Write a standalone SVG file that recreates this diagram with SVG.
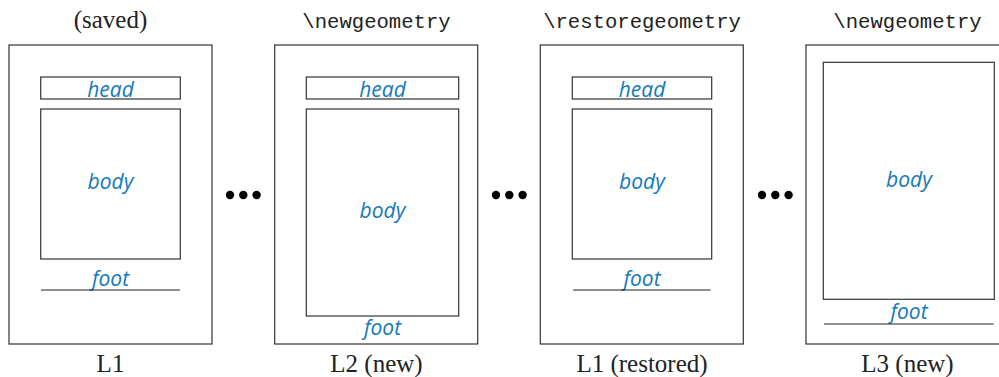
<svg xmlns="http://www.w3.org/2000/svg" width="999" height="377" viewBox="0 0 999 377">
<style>
.page{fill:#fff;stroke:#333;stroke-width:1.2}
.box{fill:none;stroke:#333;stroke-width:1.2}
.ln{stroke:#222;stroke-width:1.2}
.lbl{font-family:"Open Sans","DejaVu Sans",sans-serif;font-style:italic;font-size:21px;fill:#1479bd;text-anchor:middle}
.ser{font-family:"Liberation Serif","DejaVu Serif",serif;font-size:25px;fill:#222;text-anchor:middle}
.mono{font-family:"Liberation Mono","DejaVu Sans Mono",monospace;font-size:20.6px;fill:#222;text-anchor:middle}
.dot{fill:#000}
</style>
<rect width="999" height="377" fill="#fff"/>
<g id="page1">
<text class="ser" x="110.5" y="28">(saved)</text>
<rect class="page" x="9" y="45" width="203" height="299"/>
<rect class="box" x="40.7" y="77" width="139.6" height="22"/>
<text class="lbl" x="110.5" y="97">head</text>
<rect class="box" x="40.7" y="109" width="139.6" height="150"/>
<text class="lbl" x="110.5" y="189">body</text>
<text class="lbl" x="110.5" y="286">foot</text>
<line class="ln" x1="41" y1="290" x2="180" y2="290"/>
<text class="ser" x="110.5" y="372">L1</text>
</g>
<g id="page2">
<text class="mono" x="376.5" y="28">\newgeometry</text>
<rect class="page" x="274.7" y="45" width="203" height="299"/>
<rect class="box" x="306.3" y="77" width="152.4" height="22"/>
<text class="lbl" x="382.5" y="97">head</text>
<rect class="box" x="306.3" y="109" width="152.4" height="207"/>
<text class="lbl" x="382.5" y="218">body</text>
<text class="lbl" x="382.5" y="335">foot</text>
<text class="ser" x="376.5" y="372">L2 (new)</text>
</g>
<g id="page3">
<text class="mono" x="642" y="28">\restoregeometry</text>
<rect class="page" x="540.3" y="45" width="203" height="299"/>
<rect class="box" x="572.3" y="77" width="139.4" height="22"/>
<text class="lbl" x="642" y="97">head</text>
<rect class="box" x="572.3" y="109" width="139.4" height="150"/>
<text class="lbl" x="642" y="189">body</text>
<text class="lbl" x="642" y="286">foot</text>
<line class="ln" x1="573" y1="290" x2="710.7" y2="290"/>
<text class="ser" x="642" y="372">L1 (restored)</text>
</g>
<g id="page4">
<text class="mono" x="907.5" y="28">\newgeometry</text>
<rect class="page" x="806" y="45" width="203" height="299"/>
<rect class="box" x="823.3" y="62.3" width="171" height="237"/>
<text class="lbl" x="909" y="187">body</text>
<text class="lbl" x="909" y="319">foot</text>
<line class="ln" x1="824" y1="324" x2="993.7" y2="324"/>
<text class="ser" x="907.5" y="372">L3 (new)</text>
</g>
<g id="connectors">
<circle class="dot" cx="230" cy="195" r="4.2"/>
<circle class="dot" cx="243.3" cy="195" r="4.2"/>
<circle class="dot" cx="256.6" cy="195" r="4.2"/>
<circle class="dot" cx="496" cy="195" r="4.2"/>
<circle class="dot" cx="509.3" cy="195" r="4.2"/>
<circle class="dot" cx="522.6" cy="195" r="4.2"/>
<circle class="dot" cx="762" cy="195" r="4.2"/>
<circle class="dot" cx="775.3" cy="195" r="4.2"/>
<circle class="dot" cx="788.6" cy="195" r="4.2"/>
</g>
</svg>
